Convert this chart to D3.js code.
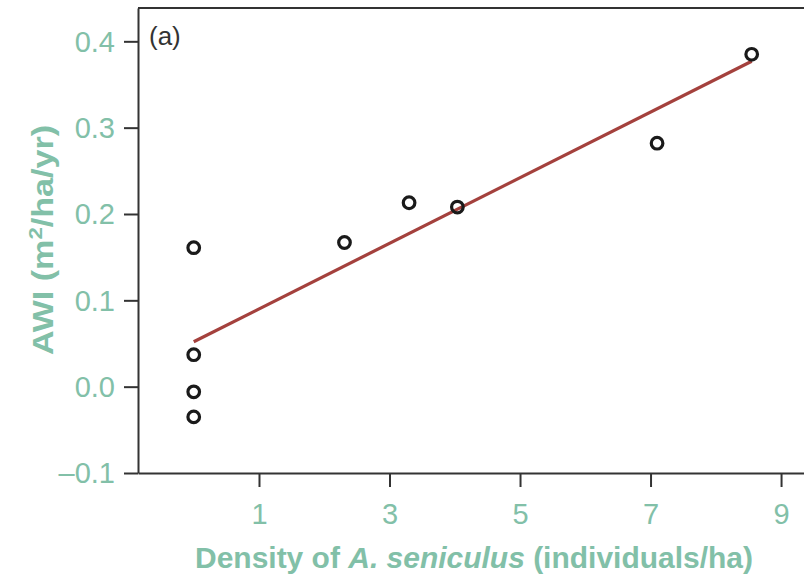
<!DOCTYPE html>
<html>
<head>
<meta charset="utf-8">
<script src="https://cdn.jsdelivr.net/npm/d3@7"></script>
<style>
  html, body { margin: 0; padding: 0; background: #fff; }
  svg { display: block; }
</style>
</head>
<body>
<svg id="chart" width="804" height="578"></svg>
<script>
// Density of A. seniculus (individuals/ha) and AWI (m²/ha/yr) per site
const density = [0, 0, 0, 0, 2.31, 3.30, 4.04, 7.10, 8.55];
const awi = [0.161, 0.037, -0.006, -0.035, 0.167, 0.213, 0.208, 0.282, 0.385];

// Fitted regression line (intercept, slope)
const fitIntercept = 0.052;
const fitSlope = 0.038;

const xTicks = [1, 3, 5, 7, 9];
const yTicks = [-0.1, 0.0, 0.1, 0.2, 0.3, 0.4];
const xDomain = [-0.854, 9.75];
const yDomain = [-0.1, 0.4386];

const textColor = "#82c0a8";
const axisColor = "#333";
const fitColor = "#a4413d";
const font = "'Liberation Sans', Arial, Helvetica, sans-serif";

const svg = d3.select("#chart");
const plotLeft = 138, plotTop = 8, plotBottom = 473, plotRight = 830;

const x = d3.scaleLinear().domain(xDomain).range([plotLeft, plotRight]);
const y = d3.scaleLinear().domain(yDomain).range([plotBottom, plotTop]);

// Frame: top border
svg.append("line")
  .attr("x1", plotLeft).attr("x2", plotRight)
  .attr("y1", plotTop).attr("y2", plotTop)
  .attr("stroke", axisColor).attr("stroke-width", 2);

// Y axis
const yAxis = svg.append("g")
  .attr("transform", `translate(${plotLeft},0)`)
  .call(d3.axisLeft(y).tickValues(yTicks).tickSize(14).tickSizeOuter(0)
    .tickFormat(d => d < 0 ? "\u2013" + Math.abs(d).toFixed(1) : d.toFixed(1)));
yAxis.select(".domain").attr("stroke", axisColor).attr("stroke-width", 2);
yAxis.selectAll(".tick line").attr("stroke", axisColor).attr("stroke-width", 2);
yAxis.selectAll(".tick text")
  .attr("x", -23)
  .attr("dy", "0.34em")
  .attr("fill", textColor)
  .style("font-family", font)
  .style("font-size", "29px");

// X axis
const xAxis = svg.append("g")
  .attr("transform", `translate(0,${plotBottom})`)
  .call(d3.axisBottom(x).tickValues(xTicks).tickSize(14).tickSizeOuter(0)
    .tickFormat(d3.format("d")));
xAxis.select(".domain").attr("stroke", axisColor).attr("stroke-width", 2);
xAxis.selectAll(".tick line").attr("stroke", axisColor).attr("stroke-width", 2);
xAxis.selectAll(".tick text")
  .attr("y", 51)
  .attr("dy", 0)
  .attr("fill", textColor)
  .style("font-family", font)
  .style("font-size", "29px");

// Fitted line across the observed density range
const xMin = d3.min(density), xMax = d3.max(density);
svg.append("line")
  .attr("x1", x(xMin)).attr("y1", y(fitIntercept + fitSlope * xMin))
  .attr("x2", x(xMax)).attr("y2", y(fitIntercept + fitSlope * xMax))
  .attr("stroke", fitColor).attr("stroke-width", 3.2);

// Observations
svg.append("g").selectAll("circle")
  .data(density.map((d, i) => [d, awi[i]]))
  .join("circle")
  .attr("cx", d => x(d[0]))
  .attr("cy", d => y(d[1]))
  .attr("r", 5.8)
  .attr("fill", "none")
  .attr("stroke", "#1a1a1a")
  .attr("stroke-width", 3.2);

// Panel label
svg.append("text")
  .attr("x", 149).attr("y", 45)
  .attr("fill", "#333")
  .style("font-family", font)
  .style("font-size", "26px")
  .text("(a)");

// X axis title
const xt = svg.append("text")
  .attr("x", 195).attr("y", 568)
  .attr("fill", textColor)
  .attr("textLength", 558)
  .attr("lengthAdjust", "spacingAndGlyphs")
  .style("font-family", font)
  .style("font-size", "29px")
  .style("font-weight", "bold");
xt.append("tspan").text("Density of ");
xt.append("tspan").style("font-style", "italic").text("A. seniculus");
xt.append("tspan").text(" (individuals/ha)");

// Y axis title
const yt = svg.append("text")
  .attr("transform", "translate(53,355) rotate(-90)")
  .attr("fill", textColor)
  .attr("textLength", 230)
  .attr("lengthAdjust", "spacingAndGlyphs")
  .style("font-family", font)
  .style("font-size", "29px")
  .style("font-weight", "bold");
yt.append("tspan").text("AWI (m");
yt.append("tspan").attr("dy", -11).style("font-size", "19px").text("2");
yt.append("tspan").attr("dy", 11).text("/ha/yr)");
</script>
</body>
</html>
